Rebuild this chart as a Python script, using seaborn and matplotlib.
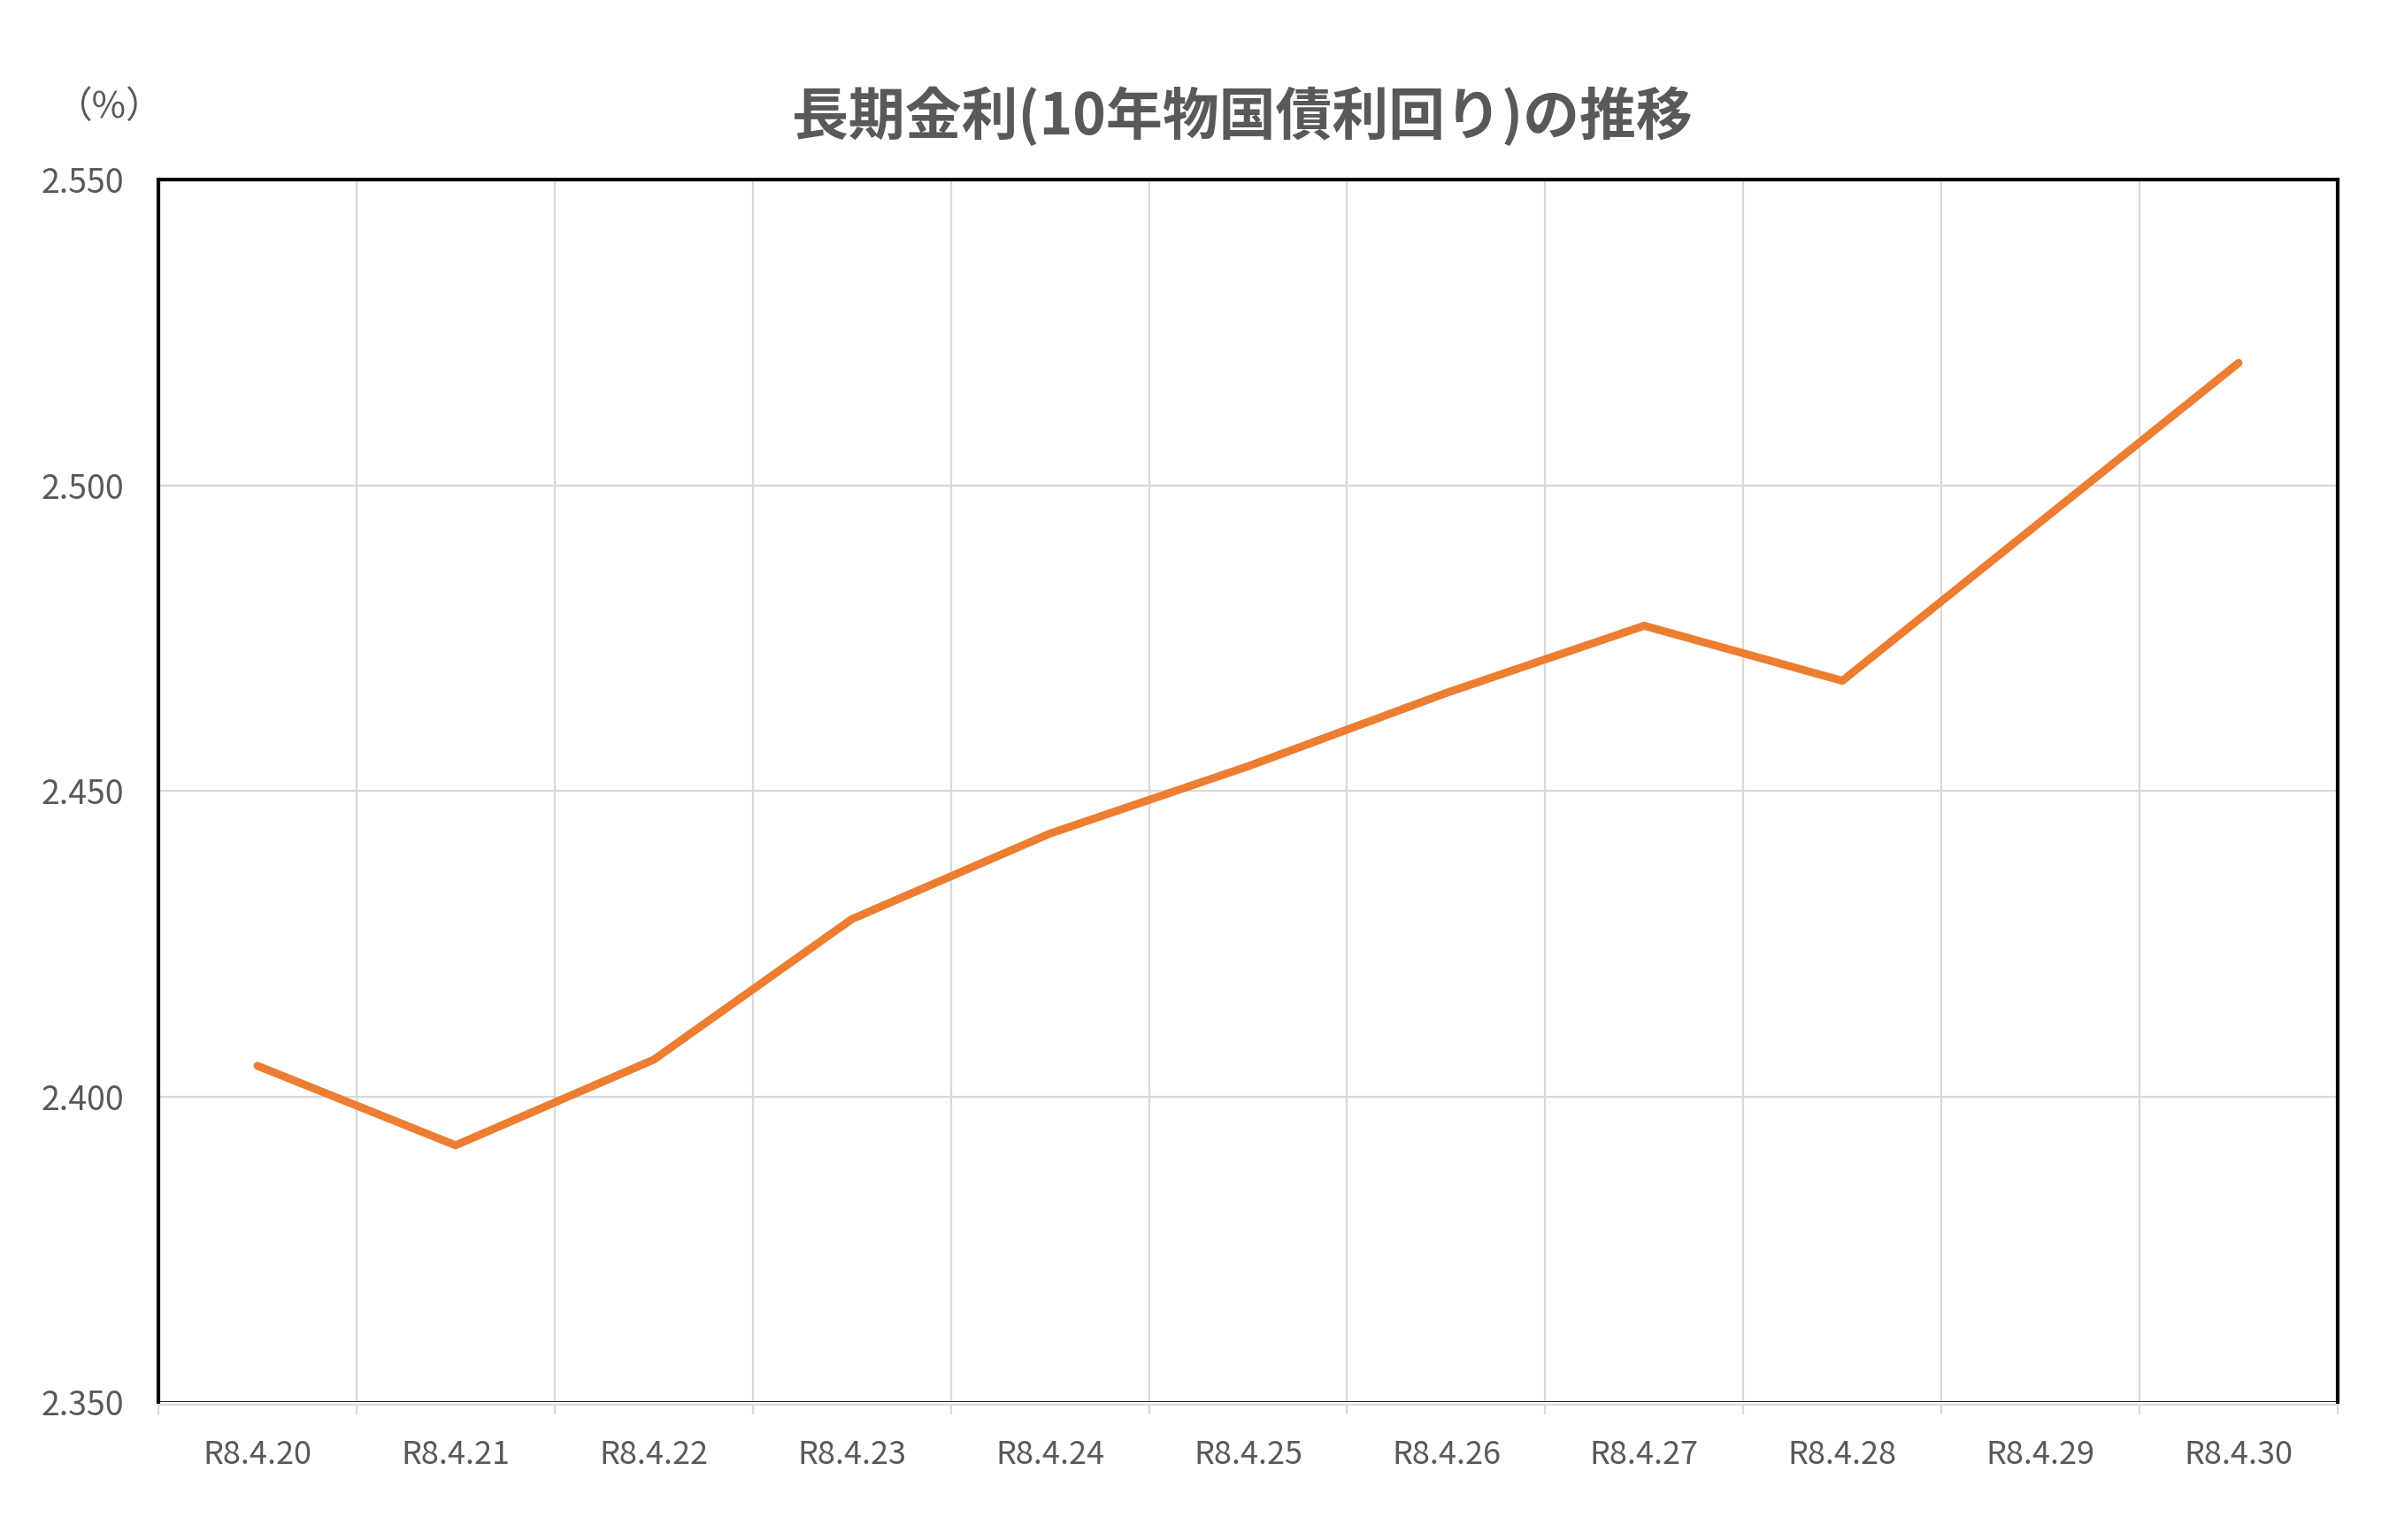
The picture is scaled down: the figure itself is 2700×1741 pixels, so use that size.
import pandas as pd
import seaborn as sns
import matplotlib.pyplot as plt
from matplotlib.ticker import FixedLocator, FuncFormatter

# Data
dates = ['R8.4.20', 'R8.4.21', 'R8.4.22', 'R8.4.23', 'R8.4.24', 'R8.4.25',
         'R8.4.26', 'R8.4.27', 'R8.4.28', 'R8.4.29', 'R8.4.30']
yields = [2.405, 2.392, 2.406, 2.429, 2.443, 2.454, 2.466, 2.477, 2.468, 2.494, 2.520]
y_ticks = [2.35, 2.40, 2.45, 2.50, 2.55]

df = pd.DataFrame({'date': dates, 'yield': yields})

sns.set_theme(style='white')
plt.rcParams['font.family'] = ['Noto Sans CJK JP', 'DejaVu Sans']

text_color = '#595959'
grid_color = '#D9D9D9'

fig = plt.figure(figsize=(27, 17.41), dpi=100)
ax = fig.add_axes([0.0663, 0.0896, 0.9122, 0.7938])

sns.lineplot(data=df, x='date', y='yield', sort=False, ax=ax,
             color='#ED7D31', linewidth=6.5, solid_capstyle='round',
             solid_joinstyle='round', zorder=3)

n = len(dates)
ax.set_xlim(-0.5, n - 0.5)
ax.set_ylim(y_ticks[0], y_ticks[-1])
ax.set_yticks(y_ticks)
ax.yaxis.set_major_formatter(FuncFormatter(lambda v, p: f'{v:.3f}'))

# category boundaries: vertical gridlines + tick marks below the axis
ax.xaxis.set_minor_locator(FixedLocator([i - 0.5 for i in range(n + 1)]))
ax.grid(True, which='minor', axis='x', color=grid_color, linewidth=1.6)
ax.grid(True, which='major', axis='y', color=grid_color, linewidth=1.6)
ax.grid(False, which='major', axis='x')

ax.tick_params(axis='x', which='major', length=0, pad=28, labelsize=26,
               labelcolor=text_color)
ax.tick_params(axis='x', which='minor', length=8, width=1.6, color=grid_color,
               bottom=True)
ax.tick_params(axis='y', which='major', length=0, pad=28, labelsize=27,
               labelcolor=text_color)

for side in ['left', 'top', 'right']:
    ax.spines[side].set_color('black')
    ax.spines[side].set_linewidth(3)
ax.spines['bottom'].set_color(grid_color)
ax.spines['bottom'].set_linewidth(1.6)
ax.spines['bottom'].set_position(('outward', 2))
ax.axhline(y_ticks[0], color='black', linewidth=1.2, zorder=4)

ax.set_xlabel('')
ax.set_ylabel('')

fig.text(0.520, 0.924, '長期金利(10年物国債利回り)の推移', ha='center', va='center',
         fontsize=46, fontweight='bold', color=text_color)
fig.text(0.0456, 0.930, '（%）', ha='center', va='center', fontsize=30,
         color=text_color)

fig.savefig('out.png', dpi=100, facecolor='white')
